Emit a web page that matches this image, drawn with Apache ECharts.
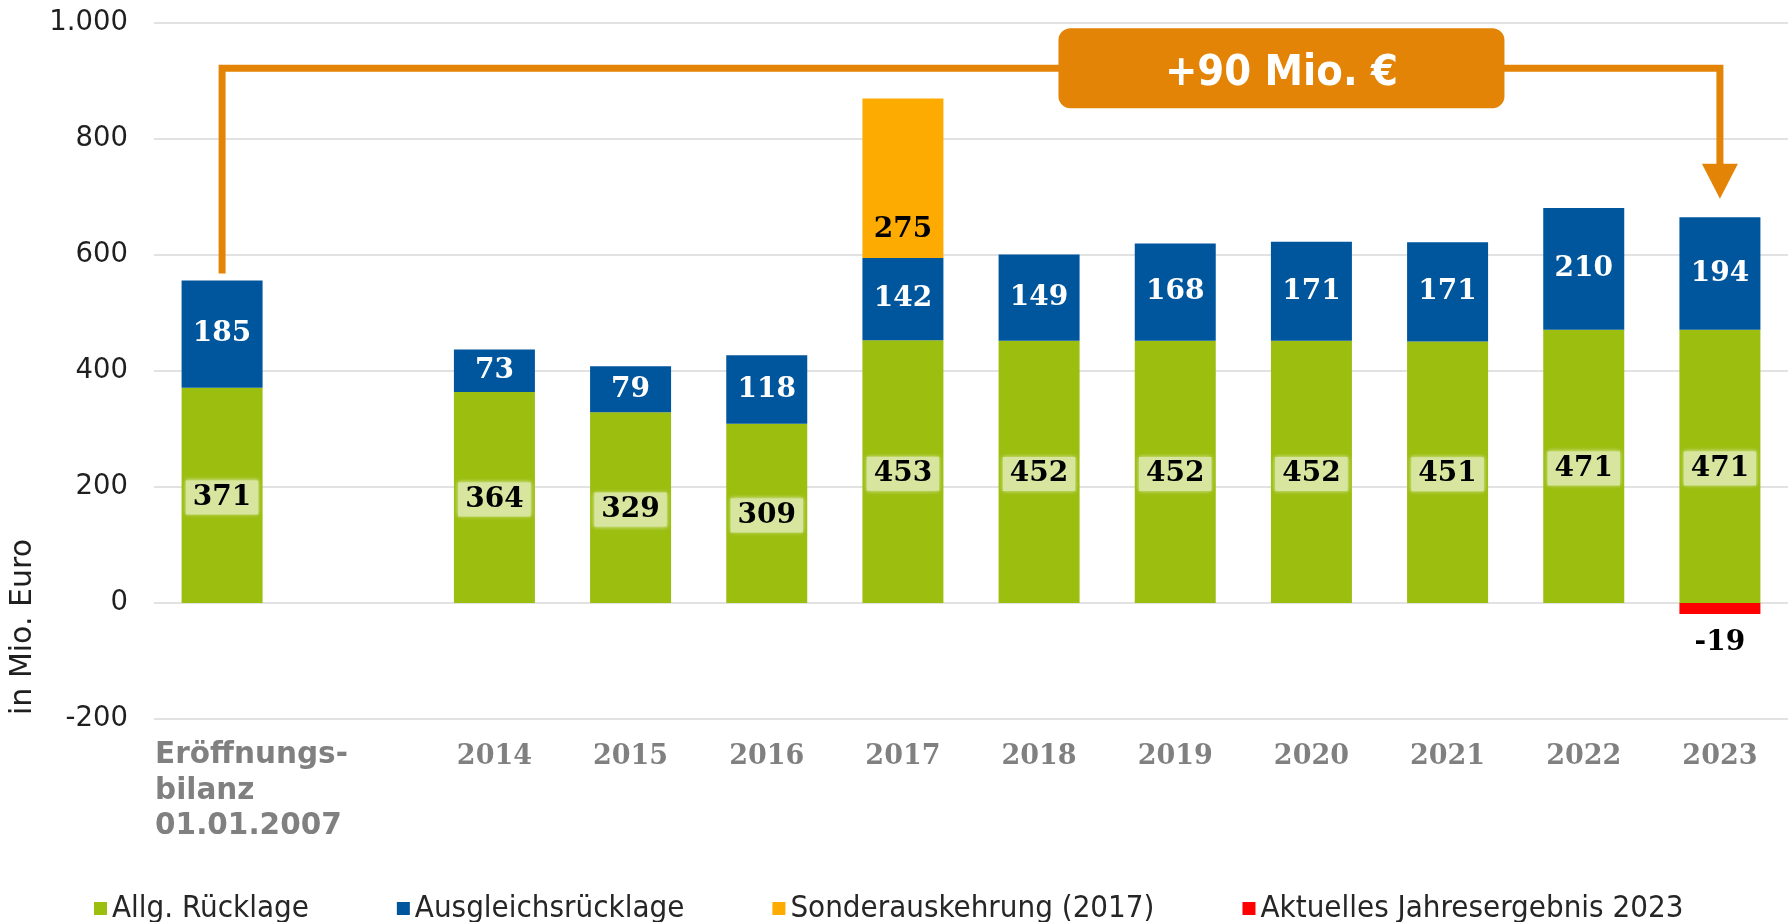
<!DOCTYPE html>
<html><head><meta charset="utf-8">
<script src="https://cdn.jsdelivr.net/npm/echarts@6/dist/echarts.min.js"></script>
<style>html,body{margin:0;padding:0;background:#fff}#c{width:1791px;height:922px}</style>
</head><body><div id="c"></div>
<script>
// ---- data ----
const categories = ['Eröffnungs-\nbilanz\n01.01.2007', '', '2014', '2015', '2016', '2017', '2018', '2019', '2020', '2021', '2022', '2023'];
const allgRuecklage = [371, null, 364, 329, 309, 453, 452, 452, 452, 451, 471, 471];
const ausgleichsRuecklage = [185, null, 73, 79, 118, 142, 149, 168, 171, 171, 210, 194];
const sonderauskehrung = [null, null, null, null, null, 275, null, null, null, null, null, null];
const jahresergebnis = [null, null, null, null, null, null, null, null, null, null, null, -19];
const seriesNames = ['Allg. Rücklage', 'Ausgleichsrücklage', 'Sonderauskehrung (2017)', 'Aktuelles Jahresergebnis 2023'];
const yMin = -200, yMax = 1000, yStep = 200;
const yAxisTitle = 'in Mio. Euro';
// annotation bracket (category index, value)
const bracketPath = [[0, 568], [0, 922], [11, 922], [11, 727]];
const annotationText = '+90 Mio. €';

// ---- styles ----
const serif = "'DejaVu Serif', serif";
const sans = "'DejaVu Sans', sans-serif";
const cond = "'DejaVu Sans Condensed', 'DejaVu Sans', sans-serif";
const ORANGE = '#e38406';
function deFmt(v) {
  const s = Math.abs(v).toString().replace(/\B(?=(\d{3})+(?!\d))/g, '.');
  return (v < 0 ? '-' : '') + s;
}

const chart = echarts.init(document.getElementById('c'), null, {renderer: 'canvas'});

const xData = categories.map((c, i) => i === 0 ? {
  value: c,
  textStyle: {align: 'left', padding: [-5, 0, 0, -67], fontFamily: sans, fontSize: 29.5, lineHeight: 35.5}
} : c);

const bracketData = bracketPath.map((p, i) => i === bracketPath.length - 1 ? {
  value: p, symbol: 'triangle', symbolSize: [36, 35], symbolRotate: 180,
  itemStyle: {color: ORANGE}
} : {value: p});

const option = {
  animation: false,
  backgroundColor: '#fff',
  grid: {left: 154, right: 3, top: 23, bottom: 203},
  legend: {
    data: seriesNames,
    left: 89, top: 888,
    itemWidth: 13, itemHeight: 13, itemGap: 88,
    icon: 'rect',
    textStyle: {fontFamily: cond, fontSize: 31, color: '#262626'}
  },
  xAxis: {
    type: 'category',
    data: xData,
    axisLine: {show: false},
    axisTick: {show: false},
    axisLabel: {
      interval: 0, margin: 24, hideOverlap: false,
      fontFamily: serif, fontWeight: 'bold', fontSize: 27, color: '#808080'
    }
  },
  yAxis: {
    type: 'value',
    min: yMin, max: yMax, interval: yStep,
    axisLine: {show: false},
    axisTick: {show: false},
    axisLabel: {fontFamily: sans, fontSize: 27.5, color: '#1f1f1f', margin: 26, formatter: deFmt},
    splitLine: {lineStyle: {color: '#d9d9d9', width: 1.5}}
  },
  series: [
    {
      name: seriesNames[0], type: 'bar', stack: 'total', barWidth: 81,
      data: allgRuecklage,
      itemStyle: {color: '#9bbe0f'},
      label: {
        show: true, position: 'inside', offset: [0, 2],
        fontFamily: serif, fontWeight: 'bold', fontSize: 28, color: '#000',
        backgroundColor: '#d7e59f', padding: [4, 7, 2, 7], lineHeight: 28,
        shadowColor: 'rgba(230,240,200,0.9)', shadowBlur: 4
      }
    },
    {
      name: seriesNames[1], type: 'bar', stack: 'total', barWidth: 81,
      data: ausgleichsRuecklage,
      itemStyle: {color: '#00569d'},
      label: {show: true, position: 'inside', fontFamily: serif, fontWeight: 'bold', fontSize: 28, color: '#fff'}
    },
    {
      name: seriesNames[2], type: 'bar', stack: 'total', barWidth: 81,
      data: sonderauskehrung,
      itemStyle: {color: '#fdab00'},
      label: {show: true, position: 'insideBottom', distance: 14, fontFamily: serif, fontWeight: 'bold', fontSize: 28, color: '#000'}
    },
    {
      name: seriesNames[3], type: 'bar', stack: 'total', barWidth: 81,
      data: jahresergebnis,
      itemStyle: {color: '#ff0000'},
      label: {show: true, position: 'bottom', distance: 15, fontFamily: serif, fontWeight: 'bold', fontSize: 28, color: '#000'}
    },
    {
      name: 'bracket', type: 'line', data: bracketData,
      symbol: 'none', silent: true, z: 5,
      lineStyle: {color: ORANGE, width: 7, join: 'miter', cap: 'butt'},
      itemStyle: {color: ORANGE}
    }
  ]
};
chart.setOption(option);

// annotation box, positioned from the axis scales
const pA = chart.convertToPixel({gridIndex: 0}, [7, bracketPath[1][1]]);
const pB = chart.convertToPixel({gridIndex: 0}, [8, bracketPath[1][1]]);
const cx = pA[0] + 0.78 * (pB[0] - pA[0]);
const cy = pA[1];
chart.setOption({
  graphic: [
    {type: 'rect', z: 100, shape: {x: cx - 223, y: cy - 40, width: 446, height: 80, r: 12}, style: {fill: ORANGE}},
    {type: 'text', z: 101, x: cx, y: cy + 6, style: {text: annotationText, fill: '#fff', fontFamily: cond, fontWeight: 'bold', fontSize: 43, align: 'center', verticalAlign: 'middle'}},
    {type: 'text', z: 101, x: 23, y: 627, rotation: Math.PI / 2, style: {text: yAxisTitle, fill: '#1f1f1f', fontFamily: sans, fontSize: 30, align: 'center', verticalAlign: 'middle'}}
  ]
});
</script></body></html>
